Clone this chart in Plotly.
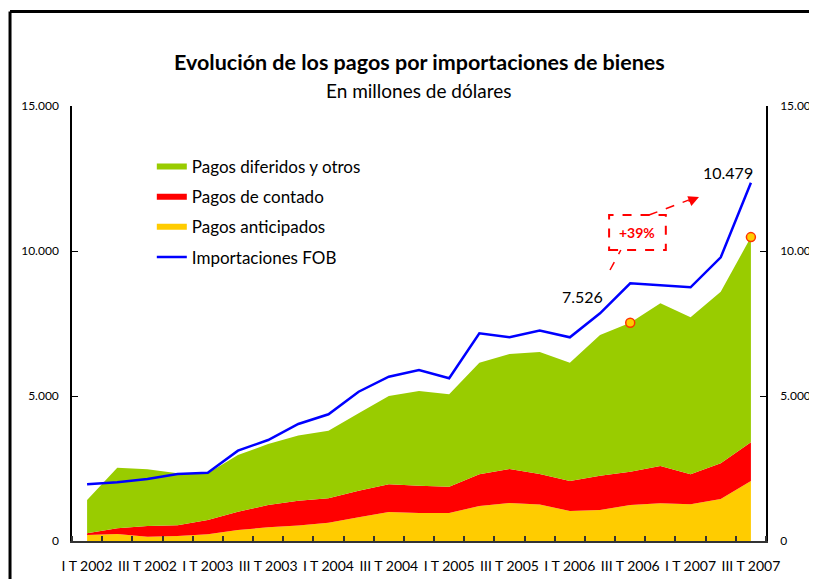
import plotly.graph_objects as go

# ---- data (millions of USD) ----
quarters = [
    "I T 2002", "II T 2002", "III T 2002", "IV T 2002",
    "I T 2003", "II T 2003", "III T 2003", "IV T 2003",
    "I T 2004", "II T 2004", "III T 2004", "IV T 2004",
    "I T 2005", "II T 2005", "III T 2005", "IV T 2005",
    "I T 2006", "II T 2006", "III T 2006", "IV T 2006",
    "I T 2007", "II T 2007", "III T 2007",
]
pagos_anticipados = [207, 241, 148, 172, 231, 379, 472, 534, 631, 817, 1000, 965,
                     965, 1207, 1310, 1259, 1034, 1069, 1241, 1300, 1266, 1448, 2069]
pagos_contado = [59, 197, 369, 369, 493, 631, 769, 856, 841, 917, 955, 942,
                 907, 1093, 1173, 1051, 1035, 1183, 1149, 1286, 1034, 1231, 1334]
pagos_diferidos = [1148, 2090, 1955, 1793, 1610, 1956, 2104, 2248, 2331, 2669, 3045, 3265,
                   3186, 3848, 3965, 4207, 4079, 4851, 5136, 5610, 5414, 5918, 7076]
importaciones_fob = [1955, 2024, 2138, 2310, 2355, 3114, 3483, 4034, 4369, 5148, 5665, 5896,
                     5610, 7162, 7024, 7259, 7024, 7851, 8886, 8828, 8748, 9782, 12355]
marked_idx = [18, 22]          # III T 2006 and III T 2007
y_ticks = [0, 5000, 10000, 15000]

x = list(range(len(quarters)))
totals = [a + b + c for a, b, c in zip(pagos_anticipados, pagos_contado, pagos_diferidos)]
fmt = lambda v: f"{v:,}".replace(",", ".")

FONT = "Lato"
fig = go.Figure()
fig.add_trace(go.Scatter(x=x, y=pagos_anticipados, stackgroup="p", mode="none",
                         fillcolor="#FFCC00", name="Pagos anticipados",
                         legendrank=3, legendgroup="c", hoverinfo="skip"))
fig.add_trace(go.Scatter(x=x, y=pagos_contado, stackgroup="p", mode="none",
                         fillcolor="#FF0000", name="Pagos de contado",
                         legendrank=2, legendgroup="b", hoverinfo="skip"))
fig.add_trace(go.Scatter(x=x, y=pagos_diferidos, stackgroup="p", mode="none",
                         fillcolor="#99CC00", name="Pagos diferidos y otros",
                         legendrank=1, legendgroup="a", hoverinfo="skip"))
fig.add_trace(go.Scatter(x=x, y=importaciones_fob, mode="lines",
                         line=dict(color="#0000FF", width=2.5),
                         name="Importaciones FOB", legendrank=4, legendgroup="d"))
fig.add_trace(go.Scatter(x=[x[i] for i in marked_idx], y=[totals[i] for i in marked_idx],
                         mode="markers", showlegend=False,
                         marker=dict(size=9, color="#FFCC00",
                                     line=dict(color="#FF3300", width=1.5))))
# invisible trace for the right axis
fig.add_trace(go.Scatter(x=x, y=importaciones_fob, yaxis="y2", mode="lines",
                         line=dict(width=0, color="rgba(0,0,0,0)"),
                         showlegend=False, hoverinfo="skip"))

i0, i1 = marked_idx
fig.add_annotation(x=x[i0], y=totals[i0], text=fmt(totals[i0]), showarrow=False,
                   xshift=-48, yshift=26, font=dict(size=16, color="black", family=FONT))
fig.add_annotation(x=x[i1], y=totals[i1], text=fmt(totals[i1]), showarrow=False,
                   xshift=-23, yshift=65, font=dict(size=16, color="black", family=FONT))
pct = round((totals[i1] / totals[i0] - 1) * 100)
fig.add_annotation(x=18.24, y=10640, text=f"<b>+{pct}%</b>", showarrow=False,
                   font=dict(size=14, color="#FF0000", family=FONT))
fig.add_shape(type="rect", x0=17.30, x1=19.18, y0=10034, y1=11241,
              line=dict(color="#FF0000", width=2, dash="dash"))
fig.add_shape(type="line", x0=17.33, y0=9345, x1=17.69, y1=10034,
              line=dict(color="#FF0000", width=1.5, dash="dash"))
fig.add_shape(type="line", x0=18.62, y0=11241, x1=20.1, y1=11820,
              line=dict(color="#FF0000", width=1.5, dash="dash"))
fig.add_annotation(x=20.28, y=11862, ax=-12, ay=5, text="", showarrow=True,
                   arrowhead=2, arrowsize=1.4, arrowwidth=1.5, arrowcolor="#FF0000")

# titles
fig.add_annotation(xref="paper", yref="paper", x=0.5, y=1.1356,
                   text="<b>Evolución de los pagos por importaciones de bienes</b>",
                   showarrow=False, font=dict(size=21.5, color="black", family=FONT))
fig.add_annotation(xref="paper", yref="paper", x=0.5, y=1.0667, text="En millones de dólares",
                   showarrow=False, font=dict(size=19, color="black", family=FONT))

# outer frame
fig.add_shape(type="line", xref="paper", yref="paper", x0=-0.0893, x1=-0.0893, y0=-0.2, y1=1.217,
              line=dict(color="black", width=3))
fig.add_shape(type="line", xref="paper", yref="paper", x0=-0.0893, x1=1.2, y0=1.217, y1=1.217,
              line=dict(color="black", width=3))

yax = dict(range=[0, 15000], tickmode="array", tickvals=y_ticks, tickformat=",d",
           ticks="inside", ticklen=6, tickcolor="black", showline=True, linecolor="black",
           linewidth=1.5, showgrid=False, zeroline=False, ticklabelstandoff=9,
           automargin=False, tickfont=dict(size=12, color="black", family=FONT))

# the page body adds an 8 px offset, so the figure is 8 px smaller than the window
fig.update_layout(
    width=809, height=571, margin=dict(l=64, r=51, t=98, b=38, autoexpand=False),
    paper_bgcolor="white", plot_bgcolor="white", separators=",.",
    font=dict(family=FONT, color="black"),
    xaxis=dict(range=[-0.5, 22.5], tickmode="array", tickvals=x[::2], ticktext=quarters[::2],
               ticks="", showline=True, linecolor="#333333", linewidth=2, automargin=False,
               showgrid=False, zeroline=False, ticklabelstandoff=11,
               tickfont=dict(size=14, color="black", family=FONT),
               minor=dict(tickmode="linear", tick0=0.5, dtick=1, ticks="inside",
                          ticklen=5, tickcolor="#333333", tickwidth=1.5, showgrid=False)),
    yaxis=yax,
    yaxis2=dict(yax, overlaying="y", side="right", ticklabelstandoff=10),
    showlegend=True,
    legend=dict(x=0.115, y=0.901, xanchor="left", yanchor="top", traceorder="grouped",
                tracegroupgap=5, bgcolor="rgba(0,0,0,0)",
                font=dict(size=17, color="black", family=FONT)),
)

fig.write_html("out.html")
